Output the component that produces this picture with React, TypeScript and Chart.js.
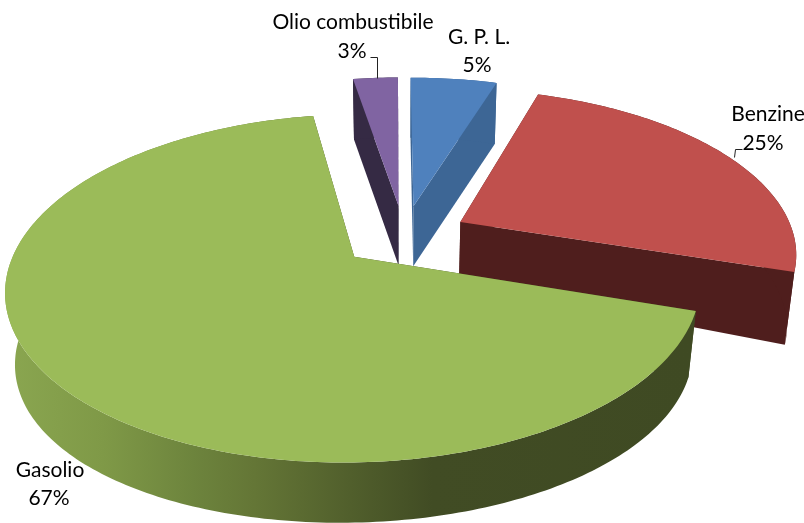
import React, { useEffect, useRef } from "react";
import { Chart, registerables } from "chart.js";

Chart.register(...registerables);

// Data
const categories = ["G. P. L.", "Benzine", "Gasolio", "Olio combustibile"];
const values = [5, 25, 67.4, 2.6];
const faceColors = ["#4f81bd", "#c0504d", "#9bbb59", "#8064a2"];
const sideColors = ["#3d6695", "#4f1e1d", "#414c24", "#352a44"];
const drawOrder = [3, 0, 1, 2];
const labelAnchors = [
  { x: 479, y: 37 },
  { x: 768, y: 114 },
  { x: 50, y: 470 },
  { x: 353, y: 22 },
];
const percentAnchors = [
  { x: 477, y: 65 },
  { x: 763, y: 143 },
  { x: 49, y: 498 },
  { x: 352, y: 51 },
];
const leaders = [
  [[377, 78], [377, 57], [370, 57]],
  [[734, 157], [735, 149], [742, 149]],
];
const rimStops: [number, string][] = [
  [0, "#8aa650"],
  [0.14, "#7f9947"],
  [0.27, "#6d843d"],
  [0.36, "#647636"],
  [0.5, "#515f2c"],
  [0.62, "#414c24"],
  [1, "#3f4a23"],
];

// Projection of the pie disc
const CX = 404, CY = 236, RX = 334, RY = 161, DEPTH = 60, KY = 0.177, KZ = 0.024;

function project(x: number, y: number, z: number): [number, number] {
  const w = 1 + KY * y;
  return [CX + (RX * x) / (w + KZ * z), CY + (-RY * y) / w + (DEPTH + 10 * x * x) * z];
}

const pie3d = {
  id: "pie3d",
  beforeDatasetsDraw(chart: any) {
    const ctx = chart.ctx;
    const arcs = chart.getDatasetMeta(0).data;
    const trace = (pts: [number, number][], fill: any) => {
      ctx.beginPath();
      pts.forEach((p, i) => (i ? ctx.lineTo(p[0], p[1]) : ctx.moveTo(p[0], p[1])));
      ctx.closePath();
      ctx.fillStyle = fill;
      ctx.fill();
    };
    ctx.save();
    drawOrder.forEach((idx) => {
      const arc = arcs[idx];
      const a0 = arc.startAngle + Math.PI / 2;
      const a1 = arc.endAngle + Math.PI / 2;
      const mid = (a0 + a1) / 2;
      const off = arc.options.offset / arc.outerRadius;
      const ox = off * Math.sin(mid);
      const oy = off * Math.cos(mid);
      const n = Math.max(8, Math.round(((a1 - a0) * 180) / Math.PI));
      const rim = (z: number) => {
        const pts: [number, number][] = [];
        for (let i = 0; i <= n; i++) {
          const t = a0 + ((a1 - a0) * i) / n;
          pts.push(project(ox + Math.sin(t), oy + Math.cos(t), z));
        }
        return pts;
      };
      const top = rim(0);
      const bottom = rim(1);
      const apexT = project(ox, oy, 0);
      const apexB = project(ox, oy, 1);
      let rimFill: any = sideColors[idx];
      if (idx === 2) {
        const g = ctx.createLinearGradient(8, 0, 692, 0);
        rimStops.forEach(([s, c]) => g.addColorStop(s, c));
        rimFill = g;
      }
      // cut faces
      trace([apexT, top[0], bottom[0], apexB], sideColors[idx]);
      trace([apexT, top[n], bottom[n], apexB], sideColors[idx]);
      // outer wall
      trace([...top, ...bottom.slice().reverse()], rimFill);
      // top face
      trace([apexT, ...top], arc.options.backgroundColor);
    });
    ctx.restore();
    return false;
  },
  afterDraw(chart: any) {
    const ctx = chart.ctx;
    const total = values.reduce((a, b) => a + b, 0);
    ctx.save();
    ctx.fillStyle = "#000";
    ctx.font = '21px Lato, "Open Sans", sans-serif';
    ctx.textAlign = "center";
    ctx.textBaseline = "middle";
    chart.data.labels.forEach((label: string, i: number) => {
      ctx.fillText(label, labelAnchors[i].x, labelAnchors[i].y);
      ctx.fillText(Math.round((values[i] / total) * 100) + "%", percentAnchors[i].x, percentAnchors[i].y);
    });
    ctx.strokeStyle = "#222";
    ctx.lineWidth = 1;
    leaders.forEach((l) => {
      ctx.beginPath();
      l.forEach((p, i) => (i ? ctx.lineTo(p[0] + 0.5, p[1] + 0.5) : ctx.moveTo(p[0] + 0.5, p[1] + 0.5)));
      ctx.stroke();
    });
    ctx.restore();
  },
};

export default function App() {
  const ref = useRef<HTMLCanvasElement>(null);
  useEffect(() => {
    const chart = new Chart(ref.current as HTMLCanvasElement, {
      type: "pie",
      data: {
        labels: categories,
        datasets: [{ data: values, backgroundColor: faceColors, offset: 46, borderWidth: 0 }],
      },
      options: {
        responsive: false,
        animation: false,
        rotation: -0.3,
        plugins: { legend: { display: false }, tooltip: { enabled: false } },
      },
      plugins: [pie3d],
    } as any);
    return () => chart.destroy();
  }, []);
  return (
    <div style={{ position: "absolute", left: 0, top: 0, width: 804, height: 523, background: "#fff" }}>
      <canvas ref={ref} width={804} height={523} style={{ display: "block" }} />
    </div>
  );
}
